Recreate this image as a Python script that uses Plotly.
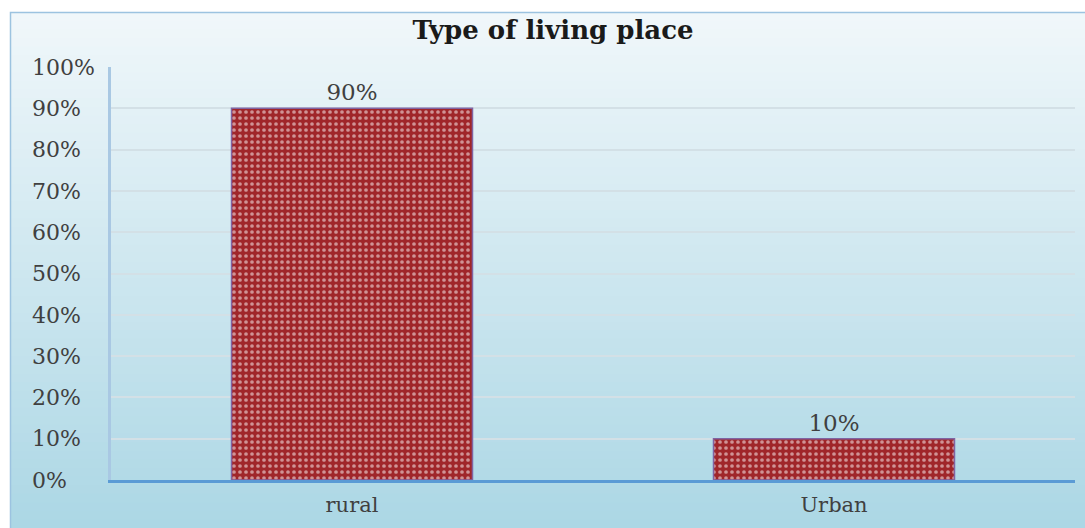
import plotly.graph_objects as go

categories = ["rural", "Urban"]
values = [0.90, 0.10]
labels = ["90%", "10%"]
title_text = "Type of living place"
tick_values = [i / 10 for i in range(11)]
tick_labels = ["0%", "10%", "20%", "30%", "40%", "50%", "60%", "70%", "80%", "90%", "100%"]

FONT = "DejaVu Serif"
NB = "\u00a0"
# pad labels so they appear left-aligned like the reference
maxlen = max(len(t) for t in tick_labels)
padded = [t + NB * (2 * (maxlen - len(t))) for t in tick_labels]

fig = go.Figure()
fig.add_trace(go.Bar(
    x=categories, y=values, text=labels, textposition="outside",
    textfont=dict(family=FONT, size=23, color="#404040"),
    width=0.5, cliponaxis=False,
    marker=dict(
        color="#a0262a",
        line=dict(color="#8064a2", width=1.5),
        pattern=dict(shape=".", fgcolor="#ffffff", bgcolor="#a0262a",
                     size=6, solidity=0.3, fillmode="overlay"),
    ),
))

# gradient background frame (styling only)
L, R, T, B = 111, 1075, 67, 480
W, H = R - L, B - T
def px_to_paper_x(px): return (px - L) / W
def px_to_paper_y(py): return (B - py) / H

top_c = (240, 247, 250)
bot_c = (172, 215, 229)
n = 60
y0p, y1p = 12, 528
shapes = []
for i in range(n):
    f = i / (n - 1)
    c = tuple(int(round(top_c[k] + (bot_c[k] - top_c[k]) * f)) for k in range(3))
    ya = y0p + (y1p - y0p) * i / n
    yb = y0p + (y1p - y0p) * (i + 1) / n + 1
    shapes.append(dict(type="rect", xref="paper", yref="paper", layer="below",
                       x0=px_to_paper_x(10), x1=px_to_paper_x(1090),
                       y0=px_to_paper_y(yb), y1=px_to_paper_y(ya),
                       fillcolor="rgb(%d,%d,%d)" % c, line=dict(width=0)))
shapes.append(dict(type="rect", xref="paper", yref="paper", layer="below",
                   x0=px_to_paper_x(10.5), x1=px_to_paper_x(1095),
                   y0=px_to_paper_y(540), y1=px_to_paper_y(12.5),
                   fillcolor="rgba(0,0,0,0)", line=dict(color="#9cc3e0", width=1.5)))

fig.update_layout(
    width=1085, height=528,
    margin=dict(l=L, r=1085 - R, t=T, b=528 - B),
    paper_bgcolor="white", plot_bgcolor="rgba(0,0,0,0)",
    shapes=shapes, showlegend=False,
    title=dict(text="<b>" + title_text + "</b>", x=553 / 1085, xanchor="center",
               y=1 - 30 / 528, yanchor="middle",
               font=dict(family=FONT, size=26, color="#1a1a1a")),
    font=dict(family=FONT, size=21, color="#404040"),
)
fig.update_xaxes(showline=True, linecolor="#5b9bd5", linewidth=2.5,
                 ticks="", ticklabelstandoff=4,
                 tickfont=dict(family=FONT, size=21, color="#404040"),
                 showgrid=False)
fig.update_yaxes(range=[0, 1], tickvals=tick_values, ticktext=padded,
                 showline=True, linecolor="#a9c8e3", linewidth=2.5,
                 gridcolor="#d3e0e6", gridwidth=1.5, zeroline=False,
                 ticklabelstandoff=9,
                 tickfont=dict(family=FONT, size=22, color="#404040"))

fig.write_html("out.html", config={"displayModeBar": False},
               post_script="document.body.style.margin='0';")
